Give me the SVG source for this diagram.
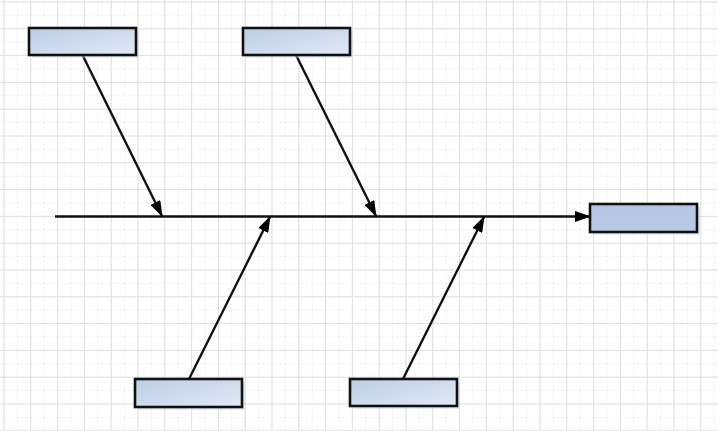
<svg xmlns="http://www.w3.org/2000/svg" width="718" height="431" viewBox="0 0 718 431">
  <defs>
    <pattern id="minor" x="3.5" y="1.5" width="13.4" height="13.4" patternUnits="userSpaceOnUse">
      <path d="M0 0.5H13.4M0.5 0V13.4" fill="none" stroke="#efefef" stroke-width="1" stroke-dasharray="2 2"/>
    </pattern>
    <pattern id="major" x="3.5" y="1.5" width="26.8" height="26.8" patternUnits="userSpaceOnUse">
      <path d="M0 0.5H26.8M0.5 0V26.8" fill="none" stroke="#e0e0e0" stroke-width="1"/>
    </pattern>
    <linearGradient id="boxfill" x1="0" y1="0" x2="1" y2="1">
      <stop offset="0" stop-color="#bccde5"/>
      <stop offset="1" stop-color="#e2e9f4"/>
    </linearGradient>
    <linearGradient id="headfill" x1="0" y1="0" x2="0" y2="1">
      <stop offset="0" stop-color="#b4c6e2"/>
      <stop offset="1" stop-color="#b9cae3"/>
    </linearGradient>
    <marker id="arrow" viewBox="0 0 16 11" refX="15" refY="5.5" markerWidth="16" markerHeight="11" markerUnits="userSpaceOnUse" orient="auto">
      <path d="M0 0L16 5.5L0 11Z" fill="#000"/>
    </marker>
  </defs>
  <style>
    .box { stroke: #111; stroke-width: 2.6; }
    .shadow { fill: #c8d2e0; opacity: 0.45; }
    .line { stroke: #111; stroke-width: 2.4; fill: none; marker-end: url(#arrow); }
  </style>
  <rect width="718" height="431" fill="#fff"/>
  <rect width="718" height="431" fill="url(#minor)"/>
  <rect width="718" height="431" fill="url(#major)"/>

  <g id="connectors">
    <line class="line" x1="55" y1="216.5" x2="590" y2="216.5"/>
    <line class="line" x1="83" y1="56" x2="162" y2="216"/>
    <line class="line" x1="296" y1="55" x2="376" y2="216"/>
    <line class="line" x1="189" y1="379" x2="270" y2="217"/>
    <line class="line" x1="403" y1="379" x2="484" y2="217"/>
  </g>

  <g id="cause-top-1">
    <rect class="shadow" x="32" y="31" width="107" height="27"/>
    <rect class="box" x="29" y="28" width="107" height="27" fill="url(#boxfill)"/>
  </g>
  <g id="cause-top-2">
    <rect class="shadow" x="246" y="31" width="107" height="27"/>
    <rect class="box" x="243" y="28" width="107" height="27" fill="url(#boxfill)"/>
  </g>
  <g id="cause-bottom-1">
    <rect class="shadow" x="138" y="382" width="107" height="28"/>
    <rect class="box" x="135" y="379" width="107" height="28" fill="url(#boxfill)"/>
  </g>
  <g id="cause-bottom-2">
    <rect class="shadow" x="353" y="382" width="107" height="27"/>
    <rect class="box" x="350" y="379" width="107" height="27" fill="url(#boxfill)"/>
  </g>
  <g id="effect">
    <rect class="shadow" x="593" y="207" width="107" height="28"/>
    <rect class="box" x="590" y="204" width="107" height="28" fill="url(#headfill)"/>
  </g>
</svg>
